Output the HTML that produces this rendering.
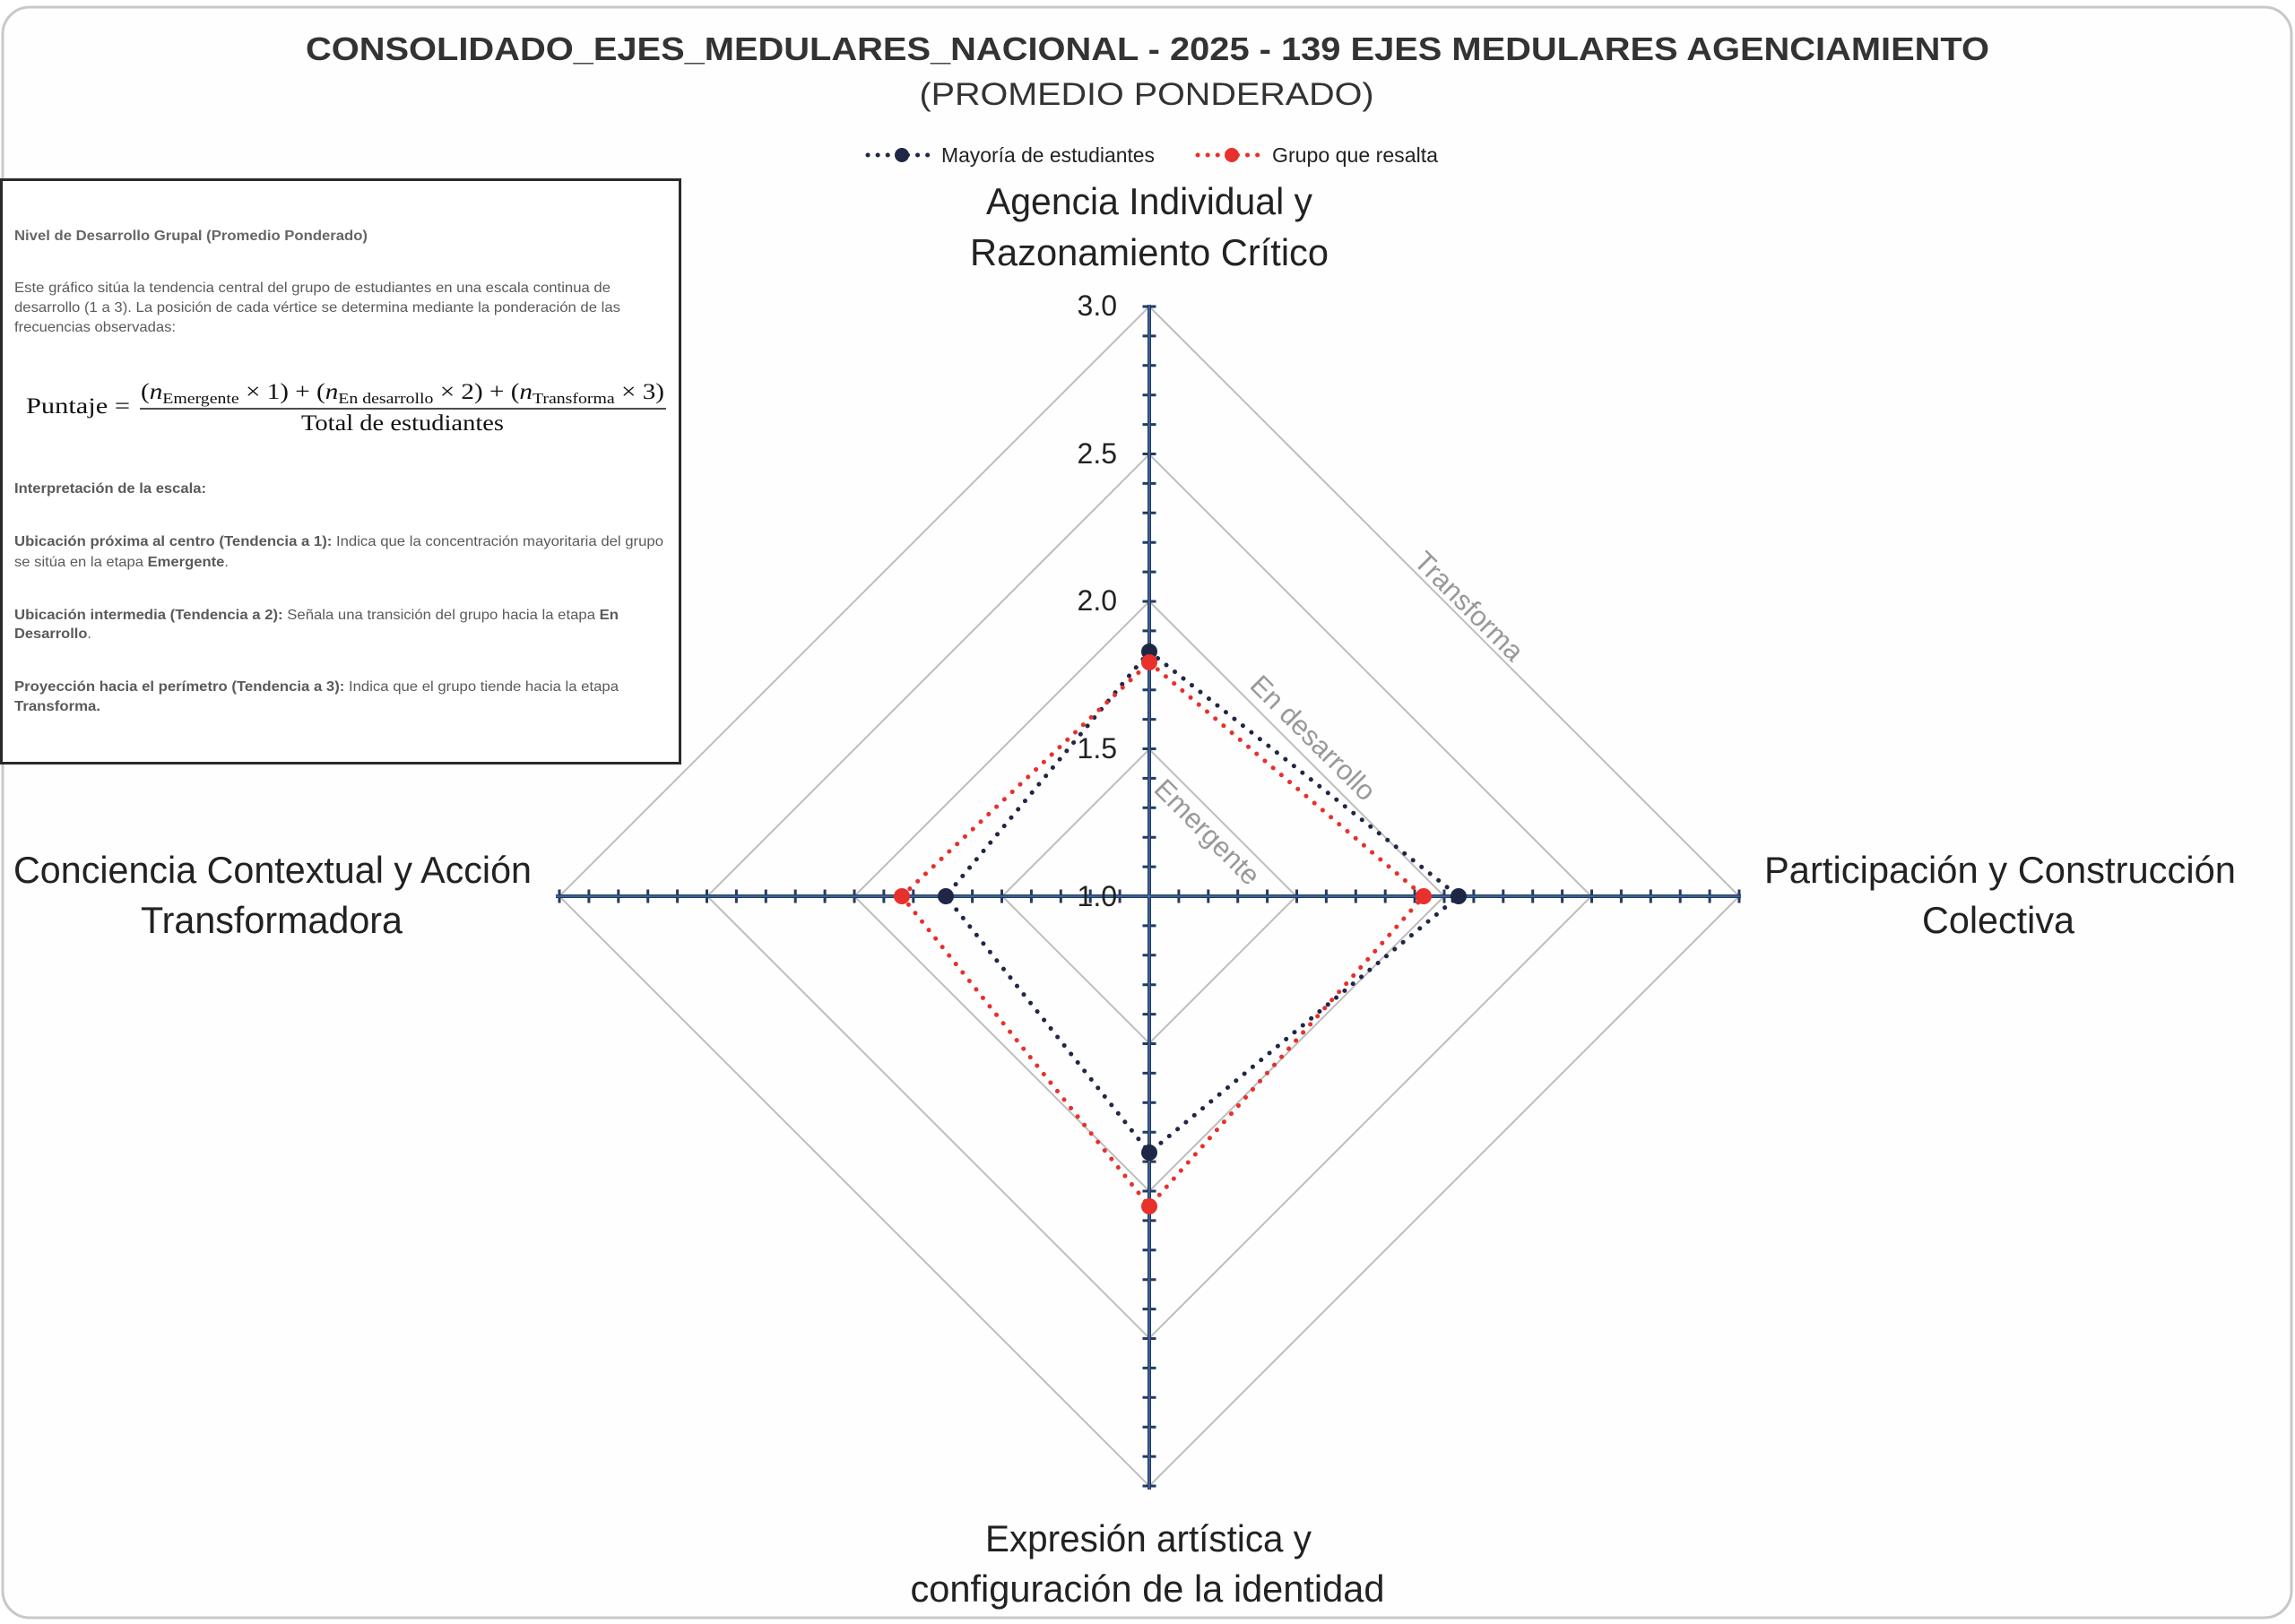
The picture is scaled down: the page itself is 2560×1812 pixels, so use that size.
<!DOCTYPE html>
<html><head><meta charset="utf-8"><style>
html,body{margin:0;padding:0;background:#fff;}
svg{display:block;}
</style></head><body>
<svg width="2560" height="1812" viewBox="0 0 2560 1812" xmlns="http://www.w3.org/2000/svg" font-family="Liberation Sans, sans-serif">
<rect x="0" y="0" width="2560" height="1812" fill="#fff"/>
<rect x="3" y="8" width="2553" height="1797" rx="30" fill="#fefefe" stroke="#c8c8c8" stroke-width="3"/>

<!-- Title -->
<text x="1280" y="67" text-anchor="middle" font-size="36" font-weight="bold" fill="#333" textLength="1878" lengthAdjust="spacingAndGlyphs">CONSOLIDADO_EJES_MEDULARES_NACIONAL  - 2025 - 139 EJES MEDULARES AGENCIAMIENTO</text>
<text x="1279" y="117" text-anchor="middle" font-size="35" fill="#333" textLength="507" lengthAdjust="spacingAndGlyphs">(PROMEDIO PONDERADO)</text>

<!-- Legend -->
<line x1="968" y1="173" x2="1044" y2="173" stroke="#1f2746" stroke-width="5" stroke-linecap="round" stroke-dasharray="0.1 11"/>
<circle cx="1006" cy="173" r="8" fill="#1f2746"/>
<text x="1050" y="181" font-size="23" fill="#222" textLength="238" lengthAdjust="spacingAndGlyphs">Mayoría de estudiantes</text>
<line x1="1336" y1="173" x2="1412" y2="173" stroke="#e8302c" stroke-width="5" stroke-linecap="round" stroke-dasharray="0.1 11"/>
<circle cx="1374" cy="173" r="8" fill="#e8302c"/>
<text x="1419" y="181" font-size="23" fill="#222" textLength="185" lengthAdjust="spacingAndGlyphs">Grupo que resalta</text>

<!-- Rings -->
<g fill="none" stroke="#bdbdbd" stroke-width="2">
<polygon points="1282,836 1446,1000 1282,1164 1118,1000"/>
<polygon points="1282,671 1611,1000 1282,1329 953,1000"/>
<polygon points="1282,507 1775,1000 1282,1493 789,1000"/>
<polygon points="1282,342 1940,1000 1282,1658 624,1000"/>
</g>

<!-- Ring labels -->
<g fill="#999" font-size="31">
<text x="1347" y="939" text-anchor="middle" transform="rotate(45 1347 928)">Emergente</text>
<text x="1465" y="834" text-anchor="middle" transform="rotate(45 1465 823)">En desarrollo</text>
<text x="1639" y="687" text-anchor="middle" transform="rotate(45 1639 676)">Transforma</text>
</g>

<!-- Axes -->
<g stroke="#253a5e">
<line x1="1282" y1="340" x2="1282" y2="1662" stroke-width="4"/>
<line x1="620" y1="1000" x2="1942" y2="1000" stroke-width="4"/>
<g stroke-width="15" stroke-dasharray="3 29.9" stroke-dashoffset="1.5">
<line x1="1282" y1="1000" x2="1282" y2="338"/>
<line x1="1282" y1="1000" x2="1282" y2="1662"/>
<line x1="1282" y1="1000" x2="620" y2="1000"/>
<line x1="1282" y1="1000" x2="1944" y2="1000"/>
</g>
</g>
<g stroke="#4a7bc0" stroke-width="1.2">
<line x1="1282" y1="340" x2="1282" y2="1662"/>
<line x1="620" y1="1000" x2="1942" y2="1000"/>
</g>

<!-- Tick labels -->
<g font-size="32" fill="#222" text-anchor="end">
<text x="1246" y="352">3.0</text>
<text x="1246" y="517">2.5</text>
<text x="1246" y="681">2.0</text>
<text x="1246" y="846">1.5</text>
<text x="1246" y="1011">1.0</text>
</g>

<!-- Data: dark -->
<polygon points="1282,727 1627,1000 1282,1286 1055,1000" fill="none" stroke="#1f2746" stroke-width="5" stroke-linecap="round" stroke-dasharray="0.1 12"/>
<polygon points="1282,739 1588,1000 1282,1346 1006,1000" fill="none" stroke="#e8302c" stroke-width="5" stroke-linecap="round" stroke-dasharray="0.1 12"/>
<g fill="#1f2746">
<circle cx="1282" cy="727" r="9"/><circle cx="1627" cy="1000" r="9"/><circle cx="1282" cy="1286" r="9"/><circle cx="1055" cy="1000" r="9"/>
</g>
<g fill="#e8302c">
<circle cx="1282" cy="739" r="9"/><circle cx="1588" cy="1000" r="9"/><circle cx="1282" cy="1346" r="9"/><circle cx="1006" cy="1000" r="9"/>
</g>

<!-- Axis labels -->
<g font-size="42" fill="#222" text-anchor="middle">
<text x="1282" y="239" textLength="364" lengthAdjust="spacingAndGlyphs">Agencia Individual y</text>
<text x="1282" y="296" textLength="400" lengthAdjust="spacingAndGlyphs">Razonamiento Crítico</text>
<text x="304" y="985" textLength="578" lengthAdjust="spacingAndGlyphs">Conciencia Contextual y Acción</text>
<text x="303" y="1041" textLength="292" lengthAdjust="spacingAndGlyphs">Transformadora</text>
<text x="2231" y="985" textLength="526" lengthAdjust="spacingAndGlyphs">Participación y Construcción</text>
<text x="2229" y="1041" textLength="170" lengthAdjust="spacingAndGlyphs">Colectiva</text>
<text x="1281" y="1731" textLength="364" lengthAdjust="spacingAndGlyphs">Expresión artística y</text>
<text x="1280" y="1787" textLength="529" lengthAdjust="spacingAndGlyphs">configuración de la identidad</text>
</g>

<!-- Info box -->
<rect x="1.5" y="200.5" width="757" height="651" fill="#fff" stroke="#2a2a2a" stroke-width="3"/>
<g font-size="16" fill="#5a5a5a">
<text x="16" y="268" textLength="394" lengthAdjust="spacingAndGlyphs" font-weight="bold" fill="#666">Nivel de Desarrollo Grupal (Promedio Ponderado)</text>
<text x="16" y="326" textLength="665" lengthAdjust="spacingAndGlyphs">Este gráfico sitúa la tendencia central del grupo de estudiantes en una escala continua de</text>
<text x="16" y="348" textLength="676" lengthAdjust="spacingAndGlyphs">desarrollo (1 a 3). La posición de cada vértice se determina mediante la ponderación de las</text>
<text x="16" y="370" textLength="180" lengthAdjust="spacingAndGlyphs">frecuencias observadas:</text>
<text x="16" y="550" textLength="214" lengthAdjust="spacingAndGlyphs" font-weight="bold">Interpretación de la escala:</text>
<text x="16" y="609" textLength="724" lengthAdjust="spacingAndGlyphs"><tspan font-weight="bold">Ubicación próxima al centro (Tendencia a 1):</tspan> Indica que la concentración mayoritaria del grupo</text>
<text x="16" y="632" textLength="239" lengthAdjust="spacingAndGlyphs">se sitúa en la etapa <tspan font-weight="bold">Emergente</tspan>.</text>
<text x="16" y="691" textLength="674" lengthAdjust="spacingAndGlyphs"><tspan font-weight="bold">Ubicación intermedia (Tendencia a 2):</tspan> Señala una transición del grupo hacia la etapa <tspan font-weight="bold">En</tspan></text>
<text x="16" y="712" textLength="86" lengthAdjust="spacingAndGlyphs"><tspan font-weight="bold">Desarrollo</tspan>.</text>
<text x="16" y="771" textLength="674" lengthAdjust="spacingAndGlyphs"><tspan font-weight="bold">Proyección hacia el perímetro (Tendencia a 3):</tspan> Indica que el grupo tiende hacia la etapa</text>
<text x="16" y="793" textLength="96" lengthAdjust="spacingAndGlyphs" font-weight="bold">Transforma.</text>
</g>
<!-- Formula -->
<g font-family="Liberation Serif, serif" fill="#111">
<text x="29" y="461" font-size="25" textLength="116" lengthAdjust="spacingAndGlyphs">Puntaje =</text>
<text x="157" y="445" font-size="25" textLength="584" lengthAdjust="spacingAndGlyphs">(<tspan font-style="italic">n</tspan><tspan font-size="17" dy="5">Emergente</tspan><tspan dy="-5"> × 1) + (</tspan><tspan font-style="italic">n</tspan><tspan font-size="17" dy="5">En desarrollo</tspan><tspan dy="-5"> × 2) + (</tspan><tspan font-style="italic">n</tspan><tspan font-size="17" dy="5">Transforma</tspan><tspan dy="-5"> × 3)</tspan></text>
<line x1="156" y1="456" x2="743" y2="456" stroke="#111" stroke-width="1.5"/>
<text x="449" y="480" font-size="25" text-anchor="middle" textLength="226" lengthAdjust="spacingAndGlyphs">Total de estudiantes</text>
</g>
</svg>
</body></html>
